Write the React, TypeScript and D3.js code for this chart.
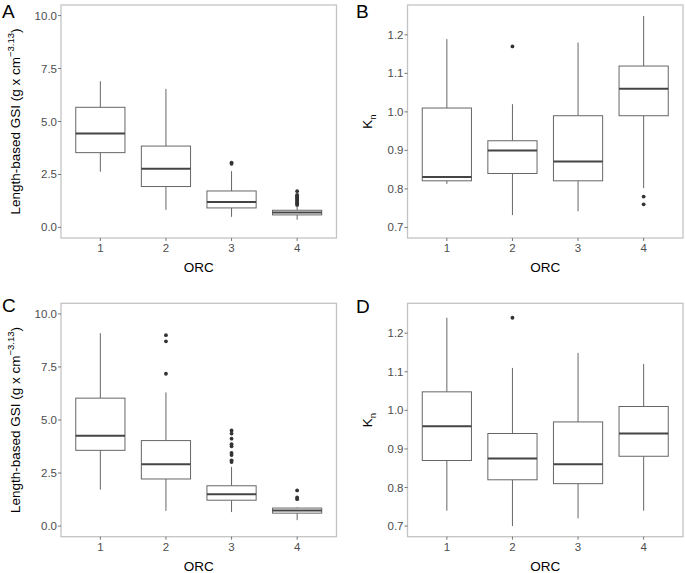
import React from 'react';
import * as d3 from 'd3';

// ORC categories shared by all four panels
const orc = ['1', '2', '3', '4'];

// five-number summaries: [whisker low, Q1, median, Q3, whisker high]
const gsiA = [[2.63, 3.53, 4.43, 5.67, 6.9], [0.83, 1.93, 2.77, 3.84, 6.54], [0.5, 0.92, 1.2, 1.72, 2.66], [0.36, 0.59, 0.7, 0.81, 1.02]];
const gsiAOut = [[], [], [3.0, 3.06], [1.06, 1.1, 1.15, 1.2, 1.25, 1.3, 1.35, 1.4, 1.45, 1.5, 1.53, 1.71]];

const knB = [[0.813, 0.821, 0.831, 1.01, 1.189], [0.732, 0.84, 0.9, 0.925, 1.02], [0.742, 0.821, 0.871, 0.99, 1.18], [0.802, 0.99, 1.06, 1.119, 1.249]];
const knBOut = [[], [1.17], [], [0.78, 0.76]];

const gsiC = [[1.72, 3.57, 4.26, 6.03, 9.09], [0.72, 2.22, 2.91, 4.03, 6.3], [0.66, 1.22, 1.5, 1.9, 2.79], [0.28, 0.61, 0.74, 0.85, 0.88]];
const gsiCOut = [[], [7.18, 8.71, 9.0], [3.02, 3.1, 3.35, 3.45, 3.76, 3.86, 4.12, 4.36, 4.51], [1.27, 1.35, 1.68]];

const knD = [[0.74, 0.87, 0.959, 1.048, 1.24], [0.7, 0.82, 0.875, 0.94, 1.11], [0.72, 0.81, 0.86, 0.97, 1.149], [0.74, 0.881, 0.94, 1.01, 1.12]];
const knDOut = [[], [1.24], [], []];

const gsiTicks = [0, 2.5, 5, 7.5, 10];
const knTicks = [0.7, 0.8, 0.9, 1.0, 1.1, 1.2];

const font = 'Liberation Sans, Arial, sans-serif';

function Panel({ letter, x0, x1, y0, y1, domain, ticks, stats, outliers, ylab, labX, letterX, letterY }: any) {
  const x = d3.scalePoint().domain(orc).range([x0, x1]).padding(0.6);
  const y = d3.scaleLinear().domain(domain).range([y1, y0]);
  const bw = x.step() * 0.75;
  const fmt = d3.format('.1f');
  const cy = (y0 + y1) / 2;
  return (
    <g>
      <text x={letterX} y={letterY} fontSize={19} fontFamily={font} fill="#000">{letter}</text>
      <rect x={x0} y={y0} width={x1 - x0} height={y1 - y0} fill="white" stroke="#c4c4c4" strokeWidth={1.3} />
      {ticks.map((t: number) => (
        <g key={t}>
          <line x1={x0 - 3} x2={x0} y1={y(t)} y2={y(t)} stroke="#555" strokeWidth={0.8} />
          <text x={x0 - 4} y={y(t)} dy="0.35em" textAnchor="end" fontSize={11.5} fontFamily={font} fill="#4d4d4d">{fmt(t)}</text>
        </g>
      ))}
      {orc.map((c) => (
        <g key={c}>
          <line x1={x(c)} x2={x(c)} y1={y1} y2={y1 + 3} stroke="#555" strokeWidth={0.8} />
          <text x={x(c)} y={y1 + 14} textAnchor="middle" fontSize={11.5} fontFamily={font} fill="#4d4d4d">{c}</text>
        </g>
      ))}
      {stats.map((s: number[], i: number) => {
        const cx = x(orc[i]) as number;
        return (
          <g key={i}>
            <line x1={cx} x2={cx} y1={y(s[4])} y2={y(s[3])} stroke="#666" strokeWidth={1} />
            <line x1={cx} x2={cx} y1={y(s[1])} y2={y(s[0])} stroke="#666" strokeWidth={1} />
            <rect x={cx - bw / 2} y={y(s[3])} width={bw} height={y(s[1]) - y(s[3])} fill="white" stroke="#666" strokeWidth={1} />
            <line x1={cx - bw / 2} x2={cx + bw / 2} y1={y(s[2])} y2={y(s[2])} stroke="#444" strokeWidth={2} />
            {outliers[i].map((o: number, j: number) => (
              <circle key={j} cx={cx} cy={y(o)} r={1.9} fill="#333" />
            ))}
          </g>
        );
      })}
      <text x={(x0 + x1) / 2} y={y1 + 34} textAnchor="middle" fontSize={13.5} fontFamily={font} fill="#000">ORC</text>
      <text transform={`translate(${labX},${cy}) rotate(-90)`} textAnchor="middle" fontSize={13.5} fontFamily={font} fill="#000">
        {ylab}
      </text>
    </g>
  );
}

const gsiLabel = (
  <>
    <tspan>Length-based GSI (g x cm</tspan>
    <tspan fontSize={9.5} dy={-6}>−3.13</tspan>
    <tspan dy={6}>)</tspan>
  </>
);
const knLabel = (
  <>
    <tspan>K</tspan>
    <tspan fontSize={9.5} dy={4}>n</tspan>
  </>
);

export default function App() {
  return (
    <svg width={685} height={573} style={{ position: 'absolute', left: 0, top: 0, background: 'white' }}>
      <Panel letter="A" x0={61} x1={336.5} y0={5} y1={238} domain={[-0.5, 10.5]} ticks={gsiTicks} stats={gsiA} outliers={gsiAOut} ylab={gsiLabel} labX={20} letterX={2} letterY={18} />
      <Panel letter="B" x0={407.5} x1={683} y0={5} y1={238} domain={[0.6725, 1.2775]} ticks={knTicks} stats={knB} outliers={knBOut} ylab={knLabel} labX={372} letterX={356} letterY={18} />
      <Panel letter="C" x0={61} x1={336.5} y0={303.3} y1={536.7} domain={[-0.5, 10.5]} ticks={gsiTicks} stats={gsiC} outliers={gsiCOut} ylab={gsiLabel} labX={20} letterX={2} letterY={312} />
      <Panel letter="D" x0={407.5} x1={683} y0={303.3} y1={536.7} domain={[0.6725, 1.2775]} ticks={knTicks} stats={knD} outliers={knDOut} ylab={knLabel} labX={372} letterX={356} letterY={313} />
    </svg>
  );
}
